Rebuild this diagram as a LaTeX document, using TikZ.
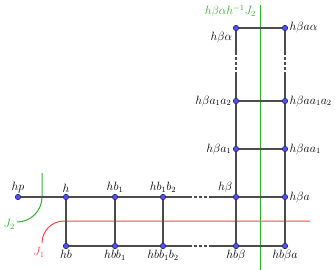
\documentclass[tikz,border=0pt]{standalone}
\usetikzlibrary{calc}
\definecolor{jred}{RGB}{255,70,70}
\definecolor{jgreen}{RGB}{50,175,50}
\definecolor{dotblue}{RGB}{80,80,235}
\begin{document}
\begin{tikzpicture}[x=1pt,y=-1pt,font=\large]
        \tikzstyle{vertex}=[circle, draw=blue!40!black, fill=dotblue, minimum size=5.5pt, inner sep=0pt, line width=0.4pt]
        \tikzstyle{edge}=[draw=black!70, line width=1.3pt]
        \tikzstyle{broken}=[edge, dash pattern=on 3pt off 2pt]
        \tikzset{every label/.style={inner sep=1.5pt}}
        \useasboundingbox (0,0) rectangle (335,270);

        % cut curves
        \draw[jred, line width=1pt, rounded corners=22pt] (42,242) |- (310,221);
        \node[jred, anchor=north, inner sep=1pt] (J1) at (39,246) {$J_1$};
        \draw[jgreen, line width=1pt, rounded corners=25pt] (42,173) |- (17,222);
        \node[jgreen, anchor=east, inner sep=1pt] (J2) at (16,224) {$J_2$};
        \coordinate (Ltop) at (260,5);
        \coordinate (Lbot) at (260,270);
        \draw[jgreen, line width=1pt] (Ltop) -- (Lbot);
        \node[jgreen, anchor=north east, inner sep=1pt] (L) at (257,4) {$h\beta\alpha h^{-1}J_2$};

        % vertices
        \node[vertex, label=above:{$hp$}] (hp) at (18,197) {};
        \node[vertex, label=above:{$h$}] (h) at (66,197) {};
        \node[vertex, label=above:{$hb_1$}] (hb1) at (115,197) {};
        \node[vertex, label=above:{$hb_1b_2$}] (hb1b2) at (163,197) {};
        \node[vertex, label=above left:{$h\beta$}] (hB) at (236,197) {};
        \node[vertex, label=right:{$h\beta a$}] (hBa) at (285,197) {};
        \node[vertex, label=below:{$hb$}] (hb) at (66,246) {};
        \node[vertex, label=below:{$hbb_1$}] (hbb1) at (115,246) {};
        \node[vertex, label=below:{$hbb_1b_2$}] (hbb1b2) at (163,246) {};
        \node[vertex, label=below:{$hb\beta$}] (hbB) at (236,246) {};
        \node[vertex, label=below:{$hb\beta a$}] (hbBa) at (285,246) {};
        \node[vertex, label=left:{$h\beta a_1$}] (hBa1) at (236,149) {};
        \node[vertex, label=right:{$h\beta aa_1$}] (hBaa1) at (285,149) {};
        \node[vertex, label=left:{$h\beta a_1a_2$}] (hBa1a2) at (236,101) {};
        \node[vertex, label=right:{$h\beta aa_1a_2$}] (hBaa1a2) at (285,101) {};
        \node[vertex, label=below left:{$h\beta\alpha$}] (hBal) at (236,28) {};
        \node[vertex, label=right:{$h\beta a\alpha$}] (hBaal) at (285,28) {};

        % edges
        \draw[edge] (hp) -- (h) -- (hb1) -- (hb1b2);
        \draw[edge] (hB) -- (hBa);
        \draw[edge] (hb) -- (hbb1) -- (hbb1b2);
        \draw[edge] (hbB) -- (hbBa);
        \draw[edge] (h) -- (hb);
        \draw[edge] (hb1) -- (hbb1);
        \draw[edge] (hb1b2) -- (hbb1b2);
        \draw[edge] (hbB) -- (hB) -- (hBa1) -- (hBa1a2);
        \draw[edge] (hbBa) -- (hBa) -- (hBaa1) -- (hBaa1a2);
        \draw[edge] (hBa1) -- (hBaa1);
        \draw[edge] (hBa1a2) -- (hBaa1a2);
        \draw[edge] (hBal) -- (hBaal);

        % broken edges
        \foreach \a/\b in {hb1b2/hB, hbb1b2/hbB, hBa1a2/hBal, hBaa1a2/hBaal} {
            \draw[edge] (\a) -- ($(\a)!0.35!(\b)$);
            \draw[broken] ($(\a)!0.35!(\b)$) -- ($(\a)!0.64!(\b)$);
            \draw[edge] ($(\a)!0.64!(\b)$) -- (\b);
        }
\end{tikzpicture}
\end{document}
